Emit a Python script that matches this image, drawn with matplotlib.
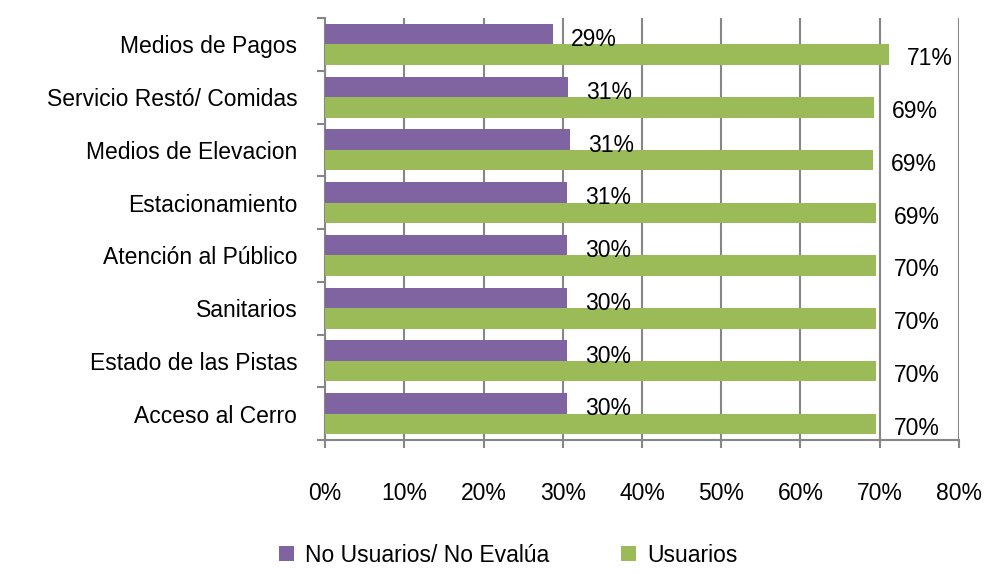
"""
Horizontal clustered bar chart: usuarios vs no usuarios per service.
"""
import matplotlib
matplotlib.use('Agg')
import matplotlib.pyplot as plt
import numpy as np

categories = ['Medios de Pagos', 'Servicio Restó/ Comidas', 'Medios de Elevacion',
              'Estacionamiento', 'Atención al Público', 'Sanitarios',
              'Estado de las Pistas', 'Acceso al Cerro']
no_usuarios = [28.8, 30.7, 30.9, 30.5, 30.5, 30.5, 30.5, 30.5]
usuarios = [71.2, 69.3, 69.1, 69.5, 69.5, 69.5, 69.5, 69.5]
no_usuarios_lbl = ['29%', '31%', '31%', '31%', '30%', '30%', '30%', '30%']
usuarios_lbl = ['71%', '69%', '69%', '69%', '70%', '70%', '70%', '70%']
xticks = [0, 10, 20, 30, 40, 50, 60, 70, 80]

plt.rcParams['font.family'] = ['Liberation Sans', 'DejaVu Sans']

purple = '#8064A2'
green = '#9BBB59'
grey = '#868686'
fs = 16.5

fig = plt.figure(figsize=(9.87, 5.74), dpi=100)
ax = fig.add_axes([0.3293, 0.2334, 0.9716 - 0.3293, 0.9686 - 0.2334])

n = len(categories)
y = np.arange(n)
h = 0.39
bp = ax.barh(y - h / 2, no_usuarios, height=h, color=purple, label='No Usuarios/ No Evalúa', zorder=3)
bg = ax.barh(y + h / 2, usuarios, height=h, color=green, label='Usuarios', zorder=3)

for i in range(n):
    ax.annotate(no_usuarios_lbl[i], (no_usuarios[i], y[i] - h / 2), xytext=(13, -4),
                textcoords='offset points', ha='left', va='center', fontsize=fs, zorder=4)
    ax.annotate(usuarios_lbl[i], (usuarios[i], y[i] + h / 2), xytext=(13, -3),
                textcoords='offset points', ha='left', va='center', fontsize=fs, zorder=4)

ax.set_xlim(0, 80)
ax.set_ylim(n - 0.5, -0.5)
ax.set_xticks(xticks)
ax.set_xticklabels([str(t) + '%' for t in xticks], fontsize=fs)
ax.set_yticks(y)
ax.set_yticklabels(categories, fontsize=fs)
ax.tick_params(axis='y', length=0, pad=20)
ax.tick_params(axis='x', length=6, color=grey, width=1.5, pad=24, direction='out')
ax.set_yticks(np.arange(n + 1) - 0.5, minor=True)
ax.tick_params(axis='y', which='minor', length=6, color=grey, width=1.5)

ax.grid(axis='x', color=grey, linewidth=1.5, zorder=0)
for side in ['top', 'right']:
    ax.spines[side].set_visible(False)
for side in ['left', 'bottom']:
    ax.spines[side].set_color(grey)
    ax.spines[side].set_linewidth(1.5)

fig.legend(handles=[bp, bg], loc='center', bbox_to_anchor=(0.515, 1 - 555 / 574), ncol=2,
           frameon=False, fontsize=fs, handlelength=0.65, handleheight=0.65,
           handletextpad=0.5, columnspacing=3.1)

fig.savefig('out.png', dpi=100)
